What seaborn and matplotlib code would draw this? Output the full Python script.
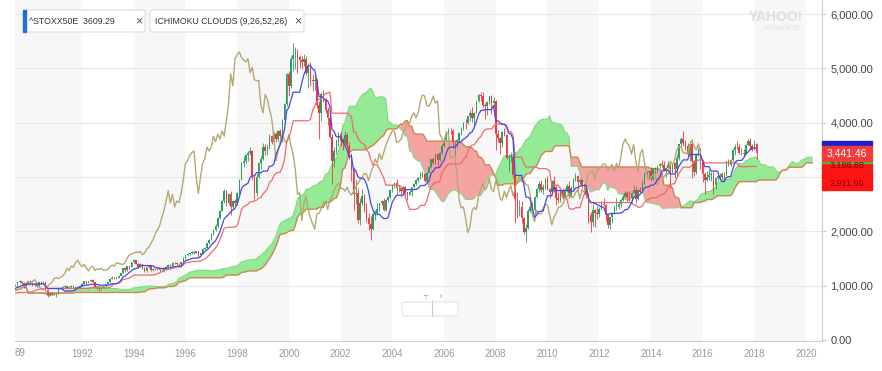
import numpy as np
import pandas as pd
import seaborn as sns
import matplotlib.pyplot as plt
from matplotlib.patches import Rectangle, FancyBboxPatch

# Monthly ^STOXX50E candles, Jan 1987 .. Feb 2018
start_month = '1987-01'
close = [
    900, 920, 940, 950, 980, 1000, 1050, 1030, 1000, 760, 720, 700,          # 1987
    720, 760, 790, 800, 790, 840, 870, 840, 860, 900, 880, 910,              # 1988
    960, 950, 980, 1000, 1010, 1020, 1060, 1080, 1050, 990, 1030, 1080,      # 1989
    1040, 1010, 1030, 1000, 1060, 1070, 1060, 920, 830, 860, 850, 840,       # 1990
    850, 940, 960, 970, 990, 950, 980, 990, 970, 960, 940, 1000,             # 1991
    1040, 1080, 1050, 1080, 1110, 1060, 980, 950, 930, 960, 990, 1030,       # 1992
    1060, 1130, 1150, 1130, 1150, 1180, 1230, 1320, 1280, 1360, 1340, 1430,  # 1993
    1470, 1400, 1350, 1390, 1330, 1270, 1340, 1360, 1280, 1310, 1300, 1320,  # 1994
    1280, 1290, 1300, 1350, 1380, 1360, 1420, 1410, 1400, 1390, 1430, 1510,  # 1995
    1570, 1580, 1600, 1620, 1610, 1630, 1570, 1600, 1680, 1700, 1780, 1850,  # 1996
    1960, 2030, 2100, 2250, 2380, 2550, 2750, 2520, 2680, 2450, 2560, 2530,  # 1997
    2700, 2950, 3250, 3300, 3400, 3450, 3480, 3000, 2700, 3000, 3250, 3340,  # 1998
    3550, 3480, 3550, 3750, 3650, 3790, 3700, 3850, 3750, 4050, 4340, 4900,  # 1999
    4680, 5180, 5250, 5300, 5200, 5150, 5120, 5180, 4920, 5020, 4790, 4770,  # 2000
    4780, 4320, 4180, 4520, 4430, 4240, 4090, 3740, 3300, 3480, 3660, 3800,  # 2001
    3670, 3630, 3780, 3570, 3420, 3130, 2680, 2710, 2200, 2520, 2650, 2390,  # 2002
    2250, 2140, 2040, 2320, 2330, 2420, 2520, 2560, 2400, 2580, 2630, 2760,  # 2003
    2840, 2890, 2790, 2790, 2740, 2810, 2720, 2670, 2730, 2810, 2880, 2950,  # 2004
    2980, 3060, 3060, 2930, 3080, 3180, 3330, 3260, 3430, 3320, 3450, 3580,  # 2005
    3690, 3770, 3850, 3840, 3640, 3650, 3690, 3810, 3900, 4000, 3990, 4120,  # 2006
    4180, 4090, 4180, 4390, 4510, 4490, 4320, 4300, 4380, 4490, 4360, 4400,  # 2007
    3790, 3720, 3630, 3830, 3780, 3350, 3370, 3370, 3040, 2590, 2430, 2450,  # 2008
    2240, 1980, 2070, 2380, 2440, 2400, 2640, 2780, 2870, 2760, 2820, 2970,  # 2009
    2780, 2730, 2930, 2820, 2610, 2570, 2740, 2620, 2750, 2840, 2650, 2790,  # 2010
    2950, 3010, 2910, 2940, 2860, 2850, 2670, 2300, 2180, 2390, 2330, 2320,  # 2011
    2420, 2510, 2480, 2310, 2120, 2260, 2330, 2440, 2450, 2500, 2580, 2640,  # 2012
    2700, 2630, 2620, 2710, 2770, 2600, 2770, 2720, 2890, 3070, 3090, 3110,  # 2013
    2960, 3150, 3160, 3200, 3240, 3230, 3120, 3170, 3230, 3110, 3250, 3150,  # 2014
    3350, 3600, 3700, 3620, 3570, 3420, 3600, 3290, 3100, 3420, 3510, 3270,  # 2015
    3050, 2950, 3000, 3030, 3060, 2860, 2990, 3020, 3000, 3060, 3050, 3290,  # 2016
    3230, 3320, 3500, 3560, 3550, 3440, 3450, 3420, 3590, 3670, 3570, 3500,  # 2017
    3609.29, 3441.46,                                                        # 2018
]
high = [
    910, 940, 960, 970, 990, 1010, 1070, 1080, 1050, 1010, 790, 740,
    740, 770, 800, 820, 810, 850, 880, 880, 870, 910, 910, 920,
    970, 980, 990, 1010, 1030, 1040, 1075, 1100, 1095, 1060, 1045, 1095,
    1100, 1060, 1050, 1045, 1070, 1090, 1095, 1065, 935, 880, 885, 870,
    870, 950, 975, 990, 1005, 1000, 990, 1010, 1000, 985, 975, 1010,
    1050, 1090, 1090, 1090, 1120, 1120, 1065, 990, 965, 975, 1000, 1040,
    1070, 1140, 1170, 1160, 1165, 1190, 1240, 1330, 1335, 1370, 1375, 1440,
    1490, 1480, 1410, 1410, 1400, 1340, 1350, 1380, 1365, 1330, 1330, 1340,
    1330, 1310, 1320, 1360, 1395, 1395, 1430, 1440, 1430, 1420, 1440, 1520,
    1580, 1600, 1610, 1640, 1640, 1645, 1640, 1610, 1690, 1720, 1790, 1860,
    1970, 2050, 2130, 2260, 2400, 2570, 2780, 2770, 2700, 2740, 2580, 2600,
    2720, 2960, 3270, 3380, 3420, 3470, 3560, 3500, 3050, 3050, 3280, 3380,
    3620, 3600, 3600, 3800, 3780, 3820, 3830, 3870, 3880, 4070, 4360, 4920,
    4960, 5230, 5470, 5400, 5350, 5250, 5220, 5260, 5220, 5100, 5110, 4900,
    4880, 4800, 4400, 4570, 4600, 4460, 4280, 4120, 3790, 3560, 3700, 3830,
    3850, 3720, 3850, 3810, 3640, 3440, 3180, 2950, 2790, 2620, 2780, 2690,
    2530, 2330, 2280, 2350, 2390, 2520, 2530, 2570, 2620, 2600, 2650, 2770,
    2870, 2910, 2960, 2860, 2810, 2840, 2830, 2730, 2760, 2820, 2890, 2960,
    3000, 3100, 3110, 3080, 3090, 3200, 3340, 3360, 3440, 3440, 3460, 3600,
    3700, 3800, 3900, 3900, 3890, 3670, 3700, 3830, 3920, 4010, 4060, 4130,
    4240, 4280, 4200, 4400, 4520, 4570, 4560, 4360, 4390, 4500, 4510, 4480,
    4420, 3870, 3740, 3850, 3900, 3790, 3430, 3460, 3400, 3050, 2720, 2570,
    2560, 2270, 2140, 2420, 2520, 2540, 2650, 2800, 2920, 2950, 2880, 2990,
    3020, 2790, 2940, 3020, 2850, 2730, 2790, 2790, 2800, 2880, 2920, 2830,
    2990, 3070, 3040, 2990, 2970, 2890, 2900, 2710, 2350, 2510, 2420, 2460,
    2450, 2550, 2610, 2500, 2320, 2270, 2340, 2470, 2620, 2560, 2600, 2660,
    2750, 2750, 2740, 2730, 2850, 2840, 2780, 2820, 2940, 3080, 3110, 3120,
    3180, 3160, 3180, 3210, 3260, 3320, 3290, 3190, 3290, 3240, 3260, 3280,
    3420, 3610, 3730, 3840, 3680, 3630, 3670, 3700, 3320, 3440, 3540, 3530,
    3270, 3100, 3120, 3150, 3100, 3110, 3000, 3050, 3080, 3100, 3090, 3300,
    3330, 3340, 3510, 3600, 3670, 3600, 3530, 3510, 3600, 3700, 3710, 3600,
    3690, 3620,
]
low = [
    860, 890, 910, 920, 940, 970, 990, 1010, 980, 650, 690, 670,
    670, 710, 750, 780, 770, 780, 830, 820, 830, 850, 860, 870,
    900, 930, 940, 970, 985, 990, 1010, 1045, 1030, 960, 985, 1020,
    1020, 990, 995, 985, 990, 1040, 1040, 900, 800, 810, 830, 820,
    800, 840, 930, 945, 955, 940, 940, 960, 960, 945, 930, 930,
    990, 1030, 1040, 1045, 1070, 1050, 970, 930, 900, 920, 950, 985,
    1020, 1055, 1120, 1115, 1120, 1140, 1170, 1225, 1260, 1275, 1310, 1335,
    1420, 1390, 1330, 1340, 1310, 1250, 1260, 1330, 1270, 1265, 1280, 1280,
    1260, 1265, 1260, 1295, 1340, 1340, 1355, 1390, 1380, 1370, 1380, 1425,
    1500, 1550, 1560, 1590, 1590, 1595, 1530, 1560, 1590, 1660, 1690, 1760,
    1840, 1940, 2010, 2060, 2230, 2370, 2530, 2460, 2480, 2300, 2420, 2480,
    2480, 2690, 2940, 3180, 3260, 3300, 3400, 2950, 2600, 2650, 2980, 3150,
    3310, 3410, 3400, 3520, 3600, 3620, 3650, 3660, 3690, 3650, 4000, 4300,
    4500, 4630, 4950, 4980, 4920, 5000, 4980, 5050, 4880, 4630, 4680, 4580,
    4610, 4270, 3700, 4040, 4380, 4170, 3950, 3710, 2880, 3180, 3420, 3580,
    3580, 3490, 3600, 3540, 3330, 2930, 2400, 2500, 2160, 2110, 2480, 2350,
    2180, 2020, 1850, 2020, 2210, 2300, 2380, 2480, 2380, 2370, 2540, 2600,
    2720, 2800, 2680, 2730, 2640, 2730, 2660, 2580, 2660, 2650, 2790, 2860,
    2910, 2970, 3000, 2900, 2910, 3070, 3170, 3240, 3240, 3200, 3290, 3430,
    3560, 3680, 3730, 3790, 3540, 3380, 3540, 3640, 3780, 3870, 3890, 3970,
    4040, 4020, 3910, 4170, 4380, 4400, 4280, 4060, 4150, 4350, 4160, 4290,
    3500, 3650, 3430, 3560, 3750, 3330, 3100, 3280, 2980, 2160, 2240, 2280,
    2160, 1960, 1800, 2050, 2350, 2330, 2290, 2620, 2730, 2720, 2690, 2780,
    2760, 2610, 2710, 2720, 2480, 2530, 2540, 2600, 2610, 2720, 2620, 2640,
    2780, 2930, 2720, 2880, 2800, 2690, 2620, 2150, 1990, 2100, 2080, 2230,
    2270, 2400, 2470, 2190, 2070, 2050, 2150, 2320, 2400, 2420, 2440, 2560,
    2640, 2540, 2560, 2520, 2700, 2520, 2580, 2700, 2710, 2880, 2980, 2980,
    2930, 2940, 2990, 3070, 3160, 3190, 3110, 3000, 3160, 2790, 3080, 2990,
    3000, 3320, 3560, 3570, 3490, 3380, 3300, 2990, 3020, 3050, 3380, 3140,
    2900, 2680, 2930, 2950, 2930, 2680, 2780, 2930, 2940, 2970, 2940, 3020,
    3200, 3210, 3300, 3410, 3510, 3430, 3400, 3360, 3400, 3590, 3520, 3480,
    3490, 3340,
]

year_ticks = list(range(1992, 2021, 2))
price_ticks = [0, 1000, 2000, 3000, 4000, 5000, 6000]
# last-value flags on the price axis
flag_prev = 3609.29
flag_last = 3441.46
flag_kijun = 3188.88
flag_spanb = 2911.90

sns.set_style('white')
plt.rcParams['font.family'] = ['Liberation Sans', 'DejaVu Sans']

months = pd.period_range(start_month, periods=len(close), freq='M')
df = pd.DataFrame({'close': close, 'high': high, 'low': low})
df['t'] = months.year + (months.month - 1) / 12
df['open'] = df['close'].shift(1).fillna(df['close'])

# Ichimoku (9, 26, 52, 26)
def midline(n):
    return (df['high'].rolling(n, min_periods=1).max()
            + df['low'].rolling(n, min_periods=1).min()) / 2

shift = 26
df['tenkan'] = midline(9)
df['kijun'] = midline(26)
df['chikou'] = df['close'].shift(-shift)
ext = pd.period_range(start_month, periods=len(df) + shift, freq='M')
cloud = pd.DataFrame({'t': ext.year + (ext.month - 1) / 12})
cloud['a'] = np.r_[np.full(shift, np.nan), ((df['tenkan'] + df['kijun']) / 2).values]
cloud['b'] = np.r_[np.full(shift, np.nan), midline(52).values]
cloud = cloud.dropna()

W, H = 882, 371
fig = plt.figure(figsize=(W / 100, H / 100), dpi=100)
ax = fig.add_axes([15 / W, 30 / H, 807 / W, 341 / H])
x0, x1 = 1989.409, 2020.616
ax.set_xlim(x0, x1)
ax.set_ylim(-18, 6258)

# alternating 2-year bands and horizontal grid
ax.axvspan(x0, 1992, color='#f7f7f7', lw=0, zorder=0)
for y in range(1994, 2020, 4):
    ax.axvspan(y, y + 2, color='#f7f7f7', lw=0, zorder=0)
for v in price_ticks[1:]:
    ax.axhline(v, color='#e9e9e9', lw=0.8, zorder=0.5)

# cloud
ax.fill_between(cloud['t'], cloud['a'], cloud['b'], where=cloud['a'] >= cloud['b'],
                interpolate=True, color='#95eb95', lw=0, zorder=1)
ax.fill_between(cloud['t'], cloud['a'], cloud['b'], where=cloud['a'] < cloud['b'],
                interpolate=True, color='#f5a3a3', lw=0, zorder=1)
sns.lineplot(data=cloud, x='t', y='a', ax=ax, color='#84d684', lw=0.8,
             estimator=None, sort=False, zorder=2)
sns.lineplot(data=cloud, x='t', y='b', ax=ax, color='#c98652', lw=1.0,
             estimator=None, sort=False, zorder=2)

# candles
up = df['close'] >= df['open']
cols = np.where(up, '#2aa05e', '#f2363c')
ax.vlines(df['t'], df['low'], df['high'], colors=cols, lw=0.6, zorder=3)
ax.bar(df['t'], (df['close'] - df['open']).abs().clip(lower=8),
       bottom=np.minimum(df['open'], df['close']), width=0.06,
       color=cols, lw=0, zorder=3)

# indicator lines
sns.lineplot(data=df, x='t', y='chikou', ax=ax, color='#b5a872', lw=1.0,
             estimator=None, sort=False, zorder=4)
sns.lineplot(data=df, x='t', y='kijun', ax=ax, color='#f06a6a', lw=0.9,
             estimator=None, sort=False, zorder=4)
sns.lineplot(data=df, x='t', y='tenkan', ax=ax, color='#4646e6', lw=0.9,
             estimator=None, sort=False, zorder=4)

# axes styling
for s in ['left', 'top']:
    ax.spines[s].set_visible(False)
for s in ['right', 'bottom']:
    ax.spines[s].set_color('#cccccc')
    ax.spines[s].set_linewidth(0.8)
ax.set_xlabel('')
ax.set_ylabel('')
ax.yaxis.tick_right()
ax.set_yticks(price_ticks)
# the 3,000 label sits under the value flags
ax.set_yticklabels(['' if v == 3000 else f'{v:,.2f}' for v in price_ticks])
ax.tick_params(axis='y', length=3, color='#cccccc', labelsize=8,
               labelcolor='#444444', pad=3)
ax.set_xticks(year_ticks)
ax.set_xticklabels([str(y) for y in year_ticks])
ax.tick_params(axis='x', direction='in', length=4, color='#dddddd',
               labelsize=7, labelcolor='#999999', pad=6)
ax.text(0.0, -(353 - 341) / 341, '89', transform=ax.transAxes, fontsize=7,
        color='#999999', ha='left', va='center')

# value flags on the right
tr = ax.get_yaxis_transform()
fw = 50 / 807
ax.add_patch(Rectangle((1.0, 3571), fw, 92, transform=tr, color='#1f1fd0',
                       clip_on=False, zorder=10))
ax.add_patch(Rectangle((1.0, 2761), fw, 497, transform=tr, color='#ff1414',
                       clip_on=False, zorder=10))
ax.add_patch(Rectangle((1.0, 3258), fw, 37, transform=tr, color='#3cc43c',
                       clip_on=False, zorder=10))
ax.add_patch(Rectangle((1.0, 3295), fw, 276, transform=tr, color='#f23d3d',
                       clip_on=False, zorder=10))
ax.text(1.0 + fw / 2, flag_last, f'{flag_last:,.2f}', transform=tr, ha='center',
        va='center', color='white', fontsize=7.5, zorder=11, clip_on=False)
ax.text(1.0 + fw / 2, 3215, f'{flag_kijun:,.2f}', transform=tr, ha='center',
        va='center', color='#8a0000', fontsize=6.5, zorder=11, clip_on=False)
ax.text(1.0 + fw / 2, 2885, f'{flag_spanb:,.2f}', transform=tr, ha='center',
        va='center', color='#8a0000', fontsize=6.5, zorder=11, clip_on=False)

# legend chips (pixel helper)
def px(x, y):
    return x / W, 1 - y / H

def chip(xa, xb, label):
    (l, t), (r, b) = px(xa, 10), px(xb, 32)
    fig.patches.append(FancyBboxPatch((l, b), r - l, t - b, boxstyle='round,pad=0,rounding_size=0.004',
                                      transform=fig.transFigure, fc='white',
                                      ec='#dddddd', lw=0.8, zorder=20))
    fig.text(*px(xa + 5, 21), label, fontsize=6.3, color='#333333', va='center', zorder=21)
    fig.text(*px(xb - 6, 21), '×', fontsize=9, color='#555555', va='center',
             ha='center', zorder=21)

chip(24, 145, f'^STOXX50E  {flag_prev:.2f}')
chip(150, 304, 'ICHIMOKU CLOUDS (9,26,52,26)')
l, t = px(23, 10)
_, b = px(23, 32)
fig.patches.append(Rectangle((l, b), 2.5 / W, t - b, transform=fig.transFigure,
                             color='#1e6fd9', zorder=22))

# watermark
fig.text(*px(776, 17), 'YAHOO!', fontsize=10, fontweight='bold', color='#dedede',
         ha='center', va='center')
fig.text(*px(782, 28), 'FINANCE', fontsize=6, color='#e2e2e2', ha='center', va='center')

# small zoom widget
l, t = px(402, 302)
r, b = px(458, 316)
fig.patches.append(FancyBboxPatch((l, b), r - l, t - b, boxstyle='round,pad=0,rounding_size=0.004',
                                  transform=fig.transFigure, fc='white', ec='#e4e4e4',
                                  lw=0.8, zorder=20))
fig.lines.append(plt.Line2D([432 / W, 432 / W], [1 - 300 / H, 1 - 316 / H],
                            transform=fig.transFigure, color='#cccccc', lw=0.8, zorder=21))
fig.text(*px(425, 298), '⊤', fontsize=5, color='#999999', ha='center', va='center', zorder=21)
fig.text(*px(440, 297), 'ı', fontsize=6, color='#999999', ha='center', va='center', zorder=21)

fig.savefig('out.png', dpi=100)
plt.close(fig)
